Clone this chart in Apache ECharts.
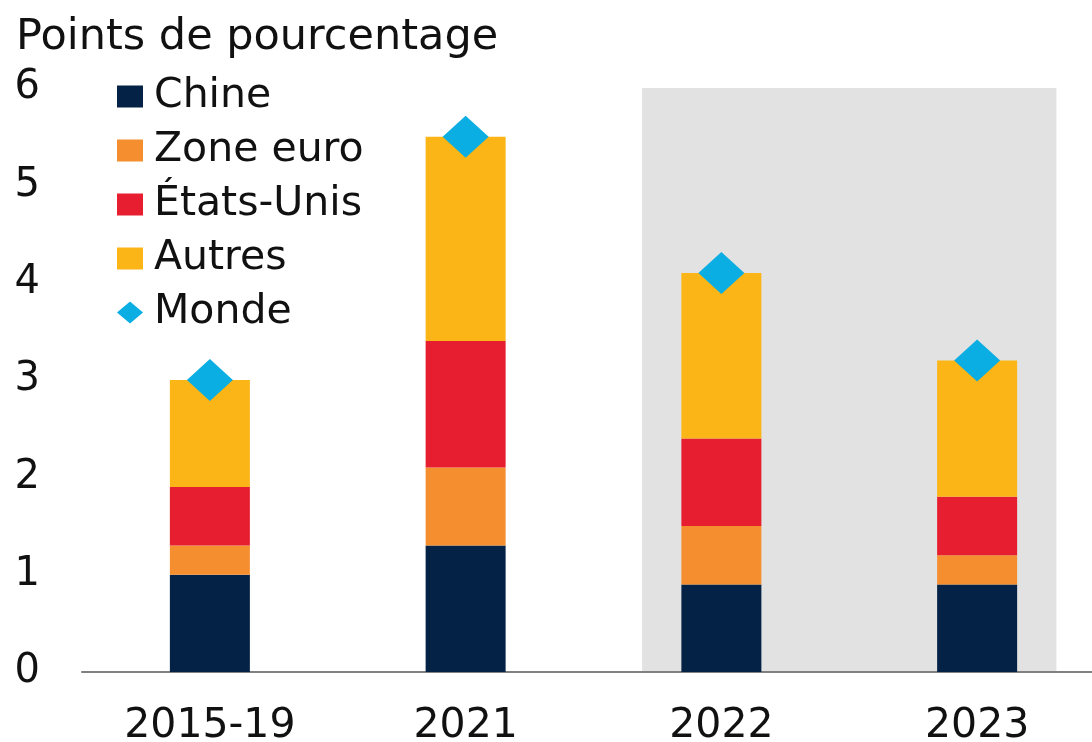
<!DOCTYPE html>
<html>
<head>
<meta charset="utf-8">
<script src="https://cdn.jsdelivr.net/npm/echarts@6/dist/echarts.min.js"></script>
<style>
  html, body { margin: 0; padding: 0; background: #fff; }
  #container { width: 1092px; height: 742px; }
</style>
</head>
<body>
<div id="container"></div>
<script>
// contributions à la croissance mondiale
const categories = ['2015-19', '2021', '2022', '2023'];
const chine = [1.0, 1.3, 0.9, 0.9];
const zoneEuro = [0.3, 0.8, 0.6, 0.3];
const etatsUnis = [0.6, 1.3, 0.9, 0.6];
const autres = [1.1, 2.1, 1.7, 1.4];
const monde = [3.0, 5.5, 4.1, 3.2];
const yTicks = [0, 1, 2, 3, 4, 5, 6];
// zone grisée (prévisions)
const shadeFrom = '2022';
const shadeTo = '2023';

const FONT = "'DejaVu Sans', sans-serif";

let biao = () => {
  var dom = document.getElementById('container');
  var myChart = echarts.init(dom);

  var option = {
    animation: false,
    title: {
      text: 'Points de pourcentage',
      left: 11,
      top: 11,
      textStyle: { fontFamily: FONT, fontSize: 43, fontWeight: 'normal', color: '#111' }
    },
    legend: {
      orient: 'vertical',
      left: 112,
      top: 71,
      itemWidth: 26,
      itemHeight: 22,
      itemGap: 13,
      textStyle: { fontFamily: FONT, fontSize: 41, color: '#111', lineHeight: 40, padding: [0, 0, 0, 6] },
      data: [
        { name: 'Chine', icon: 'rect' },
        { name: 'Zone euro', icon: 'rect' },
        { name: 'États-Unis', icon: 'rect' },
        { name: 'Autres', icon: 'rect' },
        { name: 'Monde', icon: 'diamond' }
      ]
    },
    grid: { left: 82, right: -13, top: 88, bottom: 70, containLabel: false, outerBoundsMode: 'none' },
    xAxis: {
      type: 'category',
      data: categories,
      axisLine: { lineStyle: { color: '#808080', width: 2 } },
      axisTick: { show: false },
      axisLabel: { fontFamily: FONT, fontSize: 41, color: '#111', margin: 34 }
    },
    yAxis: {
      type: 'value',
      min: yTicks[0],
      max: yTicks[yTicks.length - 1],
      interval: 1,
      axisLine: { show: false },
      axisTick: { show: false },
      splitLine: { show: false },
      axisLabel: { fontFamily: FONT, fontSize: 40, color: '#111', margin: 42 }
    },
    series: [
      {
        name: 'shade',
        type: 'custom',
        z: 0,
        silent: true,
        encode: { x: [0, 1], y: 2 },
        data: [[categories.indexOf(shadeFrom), categories.indexOf(shadeTo), yTicks[yTicks.length - 1]]],
        renderItem: (params, api) => {
          var bw = api.size([1, 0])[0];
          var p0 = api.coord([api.value(0), 0]);
          var p1 = api.coord([api.value(1), api.value(2)]);
          var pad = bw * 0.31;
          return {
            type: 'rect',
            shape: { x: p0[0] - pad, y: p1[1], width: p1[0] - p0[0] + 2 * pad, height: p0[1] - p1[1] },
            style: { fill: '#e2e2e2' }
          };
        }
      },
      { name: 'Chine', type: 'bar', stack: 'tot', barWidth: 80, data: chine, itemStyle: { color: '#042245' }, z: 2 },
      { name: 'Zone euro', type: 'bar', stack: 'tot', barWidth: 80, data: zoneEuro, itemStyle: { color: '#f58e2f' }, z: 2 },
      { name: 'États-Unis', type: 'bar', stack: 'tot', barWidth: 80, data: etatsUnis, itemStyle: { color: '#e61e30' }, z: 2 },
      { name: 'Autres', type: 'bar', stack: 'tot', barWidth: 80, data: autres, itemStyle: { color: '#fbb516' }, z: 2 },
      {
        name: 'Monde',
        type: 'scatter',
        symbol: 'diamond',
        symbolSize: [46, 42],
        data: monde,
        itemStyle: { color: '#0aaee2', opacity: 1 },
        z: 5
      }
    ]
  };

  if (option && typeof option === 'object') {
    myChart.setOption(option, true);
  }
};
biao();
</script>
</body>
</html>
